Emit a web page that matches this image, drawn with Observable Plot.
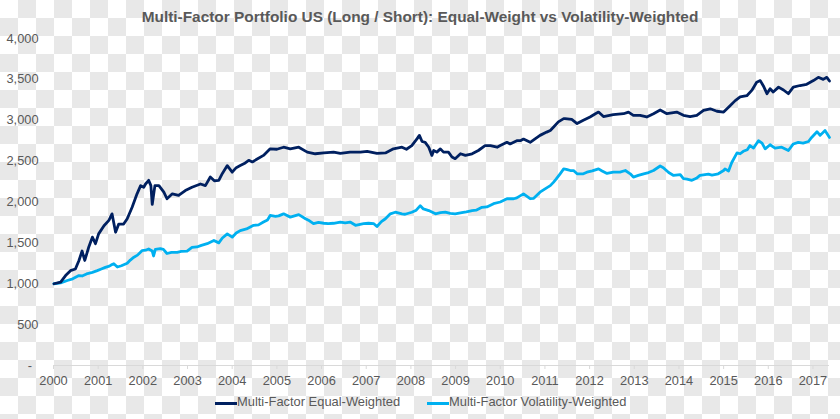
<!DOCTYPE html>
<html>
<head>
<meta charset="utf-8">
<script src="https://cdn.jsdelivr.net/npm/d3@7"></script>
<script src="https://cdn.jsdelivr.net/npm/@observablehq/plot@0.6"></script>
<style>
  html, body { margin: 0; padding: 0; }
  #page {
    position: relative; width: 840px; height: 419px; overflow: hidden;
    background: repeating-conic-gradient(#e8e8e8 0 25%, #ffffff 0 50%) 0 0 / 36px 36px;
    font-family: "Liberation Sans", Arial, sans-serif; color: #595959;
  }
  #title {
    position: absolute; left: 0; top: 8.5px; width: 840px; text-align: center;
    font-weight: bold; font-size: 15.4px; line-height: 1; color: #595959;
  }
  #chart { position: absolute; left: 0; top: 0; }
  .sw { position: absolute; height: 3px; width: 22px; }
  .lt { position: absolute; font-size: 12.9px; line-height: 1; color: #595959; white-space: nowrap; }
</style>
</head>
<body>
<div id="page">
  <div id="chart"></div>
  <div id="title"></div>
  <div id="legend"></div>
</div>
<script>
const titleText = "Multi-Factor Portfolio US (Long / Short): Equal-Weight vs Volatility-Weighted";
const seriesNames = ["Multi-Factor Equal-Weighted", "Multi-Factor Volatility-Weighted"];
const seriesColors = ["#002060", "#00b0f0"];
const xTicks = [2000,2001,2002,2003,2004,2005,2006,2007,2008,2009,2010,2011,2012,2013,2014,2015,2016,2017];
const yTicks = [0,500,1000,1500,2000,2500,3000,3500,4000];

// Multi-Factor Equal-Weighted (time in decimal years, index value)
const ewYears = [2000.01,2000.09,2000.16,2000.27,2000.38,2000.49,2000.57,2000.64,2000.70,2000.79,2000.87,2000.94,2001.01,2001.13,2001.24,2001.31,2001.39,2001.46,2001.57,2001.65,2001.76,2001.87,2001.95,2002.02,2002.06,2002.13,2002.18,2002.21,2002.27,2002.36,2002.47,2002.54,2002.66,2002.80,2002.95,2003.10,2003.29,2003.40,2003.51,2003.60,2003.70,2003.78,2003.89,2004.00,2004.09,2004.18,2004.27,2004.37,2004.45,2004.56,2004.70,2004.85,2005.00,2005.15,2005.30,2005.49,2005.68,2005.86,2006.05,2006.27,2006.42,2006.64,2006.87,2007.02,2007.24,2007.43,2007.61,2007.80,2007.90,2008.02,2008.14,2008.19,2008.25,2008.32,2008.40,2008.47,2008.51,2008.58,2008.66,2008.73,2008.84,2008.92,2008.99,2009.11,2009.22,2009.37,2009.51,2009.66,2009.78,2009.93,2010.00,2010.15,2010.22,2010.37,2010.45,2010.52,2010.67,2010.89,2011.04,2011.12,2011.19,2011.30,2011.42,2011.45,2011.60,2011.72,2011.86,2012.01,2012.13,2012.20,2012.31,2012.53,2012.76,2012.87,2012.98,2013.13,2013.28,2013.43,2013.58,2013.73,2013.95,2014.10,2014.25,2014.40,2014.55,2014.70,2014.85,2015.00,2015.15,2015.26,2015.37,2015.52,2015.63,2015.74,2015.82,2015.89,2015.97,2016.04,2016.11,2016.23,2016.34,2016.45,2016.56,2016.71,2016.86,2017.01,2017.12,2017.23,2017.31,2017.37];
const ewValues = [1000,1010,1020,1100,1160,1180,1285,1400,1285,1450,1570,1490,1610,1710,1775,1855,1630,1730,1730,1795,1935,2100,2200,2180,2220,2265,2200,1970,2200,2200,2120,2040,2100,2080,2140,2180,2220,2200,2305,2260,2265,2350,2445,2365,2420,2445,2470,2510,2490,2525,2570,2650,2645,2670,2650,2670,2610,2590,2600,2610,2595,2610,2610,2620,2595,2600,2650,2670,2645,2690,2775,2815,2740,2730,2670,2570,2630,2610,2650,2610,2610,2550,2530,2590,2570,2590,2630,2690,2690,2670,2690,2730,2710,2750,2750,2770,2730,2815,2855,2875,2915,2980,3020,3020,3010,2960,3000,3040,3080,3100,3045,3070,3080,3100,3060,3060,3040,3080,3125,3080,3100,3060,3045,3060,3120,3140,3110,3100,3180,3240,3285,3300,3365,3465,3485,3420,3325,3385,3345,3405,3370,3325,3405,3425,3440,3485,3525,3500,3525,3480];

// Multi-Factor Volatility-Weighted
const vwYears = [2000.01,2000.16,2000.31,2000.43,2000.57,2000.64,2000.74,2000.87,2000.98,2001.07,2001.16,2001.25,2001.31,2001.35,2001.43,2001.52,2001.65,2001.72,2001.80,2001.88,2001.98,2002.06,2002.13,2002.21,2002.24,2002.28,2002.39,2002.46,2002.54,2002.64,2002.77,2002.86,2002.99,2003.10,2003.21,2003.31,2003.44,2003.59,2003.70,2003.78,2003.89,2004.00,2004.09,2004.18,2004.32,2004.48,2004.59,2004.70,2004.79,2004.85,2004.97,2005.04,2005.15,2005.30,2005.49,2005.64,2005.73,2005.82,2005.93,2006.05,2006.15,2006.27,2006.42,2006.53,2006.64,2006.76,2006.94,2007.05,2007.17,2007.24,2007.34,2007.43,2007.54,2007.65,2007.80,2007.87,2008.02,2008.12,2008.21,2008.28,2008.40,2008.55,2008.66,2008.77,2008.88,2008.99,2009.14,2009.24,2009.37,2009.46,2009.59,2009.70,2009.85,2010.00,2010.15,2010.30,2010.37,2010.52,2010.67,2010.75,2010.89,2011.03,2011.12,2011.19,2011.25,2011.34,2011.42,2011.48,2011.57,2011.64,2011.72,2011.86,2011.94,2012.06,2012.20,2012.28,2012.39,2012.53,2012.68,2012.80,2012.91,2012.98,2013.09,2013.21,2013.32,2013.43,2013.58,2013.65,2013.77,2013.88,2014.03,2014.10,2014.18,2014.29,2014.39,2014.47,2014.66,2014.74,2014.88,2015.00,2015.03,2015.11,2015.18,2015.30,2015.37,2015.44,2015.53,2015.59,2015.67,2015.78,2015.86,2015.93,2016.04,2016.15,2016.30,2016.45,2016.56,2016.67,2016.78,2016.90,2016.97,2017.09,2017.16,2017.27,2017.37];
const vwValues = [1000,1010,1040,1060,1100,1095,1120,1140,1160,1180,1200,1215,1235,1245,1205,1220,1250,1290,1325,1350,1405,1410,1425,1400,1340,1420,1430,1420,1370,1385,1385,1395,1400,1445,1450,1470,1490,1530,1500,1560,1610,1570,1620,1650,1670,1715,1720,1755,1780,1835,1825,1830,1855,1815,1845,1795,1770,1735,1750,1740,1735,1740,1755,1745,1755,1715,1735,1740,1735,1700,1760,1795,1855,1875,1855,1850,1875,1900,1955,1915,1895,1855,1870,1875,1860,1855,1870,1880,1895,1900,1935,1940,1980,2000,2040,2040,2050,2100,2040,2045,2120,2170,2200,2240,2280,2345,2405,2400,2385,2385,2345,2345,2365,2380,2405,2380,2350,2365,2365,2385,2345,2305,2325,2345,2360,2385,2440,2420,2360,2325,2335,2285,2280,2265,2290,2325,2340,2330,2345,2385,2405,2380,2480,2600,2590,2620,2640,2690,2660,2750,2720,2650,2700,2660,2670,2630,2710,2730,2720,2740,2790,2860,2815,2875,2790];

const ew = ewYears.map((t, i) => ({t, v: ewValues[i]}));
const vw = vwYears.map((t, i) => ({t, v: vwValues[i]}));

document.getElementById("title").textContent = titleText;

const chart = Plot.plot({
  width: 840,
  height: 419,
  marginTop: 38,
  marginBottom: 54,
  marginLeft: 53,
  marginRight: 11,
  x: {domain: [2000, 2017.37]},
  y: {domain: [0, 4000]},
  style: {background: "transparent", fontFamily: "'Liberation Sans', Arial, sans-serif", fontSize: "12.8px", color: "#595959", overflow: "visible"},
  marks: [
    Plot.ruleY([0], {stroke: "#d9d9d9", strokeWidth: 1}),
    Plot.axisX({ticks: xTicks, tickFormat: d => String(d), tickSize: 4, tickPadding: 6, stroke: "#d9d9d9", fill: "#595959", label: null}),
    Plot.axisY({ticks: yTicks, tickFormat: d => d === 0 ? "-\u2002" : d3.format(",")(d), tickSize: 0, tickPadding: 15, fill: "#595959", label: null}),
    Plot.line(vw, {x: "t", y: "v", stroke: seriesColors[1], strokeWidth: 2.8, strokeLinejoin: "round"}),
    Plot.line(ew, {x: "t", y: "v", stroke: seriesColors[0], strokeWidth: 2.8, strokeLinejoin: "round"})
  ]
});
document.getElementById("chart").appendChild(chart);

// legend
const legend = document.getElementById("legend");
const legendX = [215, 427];
seriesNames.forEach((name, i) => {
  const sw = document.createElement("div");
  sw.className = "sw";
  sw.style.left = legendX[i] + "px";
  sw.style.top = "401.5px";
  sw.style.background = seriesColors[i];
  legend.appendChild(sw);
  const tx = document.createElement("span");
  tx.className = "lt";
  tx.style.left = (legendX[i] + 22) + "px";
  tx.style.top = "396px";
  tx.textContent = name;
  legend.appendChild(tx);
});
</script>
</body>
</html>
